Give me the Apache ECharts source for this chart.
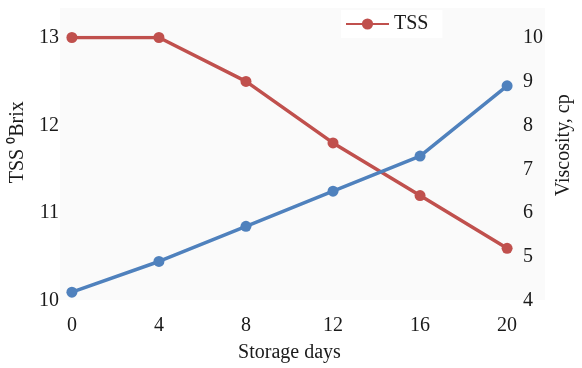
<!DOCTYPE html>
<html>
<head>
<meta charset="utf-8">
<script src="https://cdn.jsdelivr.net/npm/echarts@6/dist/echarts.min.js"></script>
<style>
html,body{margin:0;padding:0;background:#fff;}
#c{width:582px;height:368px;}
</style>
</head>
<body>
<div id="c"></div>
<script>
var days = [0, 4, 8, 12, 16, 20];
var tss = [13.0, 13.0, 12.5, 11.8, 11.2, 10.6];
var viscosity = [4.2, 4.9, 5.7, 6.5, 7.3, 8.9];
var xTicks = { min: 0, max: 20, interval: 4 };
var leftTicks = { min: 10, max: 13, interval: 1 };
var rightTicks = { min: 4, max: 10, interval: 1 };

var RED = '#c0504d', BLUE = '#4f81bd';
var FONT = 'Liberation Serif';
var TXT = '#1a1a1a';

function pairs(xs, ys) { return xs.map(function (x, i) { return [x, ys[i]]; }); }

var chart = echarts.init(document.getElementById('c'));
chart.setOption({
  animation: false,
  backgroundColor: '#fff',
  textStyle: { fontFamily: FONT, color: TXT },
  graphic: [{
    type: 'rect', silent: true, z: 0,
    shape: { x: 60, y: 8, width: 485, height: 292 },
    style: { fill: '#fafafa' }
  }],
  legend: {
    data: ['TSS'],
    left: 341, top: 10, padding: [4, 14, 4, 4],
    backgroundColor: '#fff',
    itemWidth: 43, itemHeight: 14, itemGap: 14,
    textStyle: { fontFamily: FONT, fontSize: 20, color: TXT }
  },
  grid: { left: 70, right: 55, top: 37.5, bottom: 62 },
  xAxis: {
    type: 'value', min: xTicks.min, max: xTicks.max, interval: xTicks.interval,
    name: 'Storage days', nameLocation: 'middle', nameGap: 42,
    nameTextStyle: { fontFamily: FONT, fontSize: 20, color: TXT },
    axisLine: { show: false }, axisTick: { show: false }, splitLine: { show: false },
    axisLabel: { margin: 15, fontFamily: FONT, fontSize: 20, color: TXT }
  },
  yAxis: [{
    type: 'value', position: 'left', min: leftTicks.min, max: leftTicks.max, interval: leftTicks.interval,
    name: 'TSS \u2070Brix', nameLocation: 'middle', nameRotate: 90, nameGap: 39,
    nameTextStyle: { fontFamily: FONT, fontSize: 20, color: TXT, padding: [0, 0, 0, 54] },
    axisLine: { show: false }, axisTick: { show: false }, splitLine: { show: false },
    axisLabel: { margin: 13, fontFamily: FONT, fontSize: 20, color: TXT }
  }, {
    type: 'value', position: 'right', min: rightTicks.min, max: rightTicks.max, interval: rightTicks.interval,
    name: 'Viscosity, cp', nameLocation: 'middle', nameRotate: 90, nameGap: 32,
    nameTextStyle: { fontFamily: FONT, fontSize: 20, color: TXT, padding: [0, 0, 0, 48] },
    axisLine: { show: false }, axisTick: { show: false }, splitLine: { show: false },
    axisLabel: { margin: 16, fontFamily: FONT, fontSize: 20, color: TXT }
  }],
  series: [{
    name: 'TSS', type: 'line', yAxisIndex: 0, z: 3,
    data: pairs(days, tss),
    symbol: 'circle', symbolSize: 11,
    lineStyle: { color: RED, width: 3.5 },
    itemStyle: { color: RED }
  }, {
    name: 'Viscosity', type: 'line', yAxisIndex: 1, z: 3,
    data: pairs(days, viscosity),
    symbol: 'circle', symbolSize: 11,
    lineStyle: { color: BLUE, width: 3.5 },
    itemStyle: { color: BLUE }
  }]
});
</script>
</body>
</html>
